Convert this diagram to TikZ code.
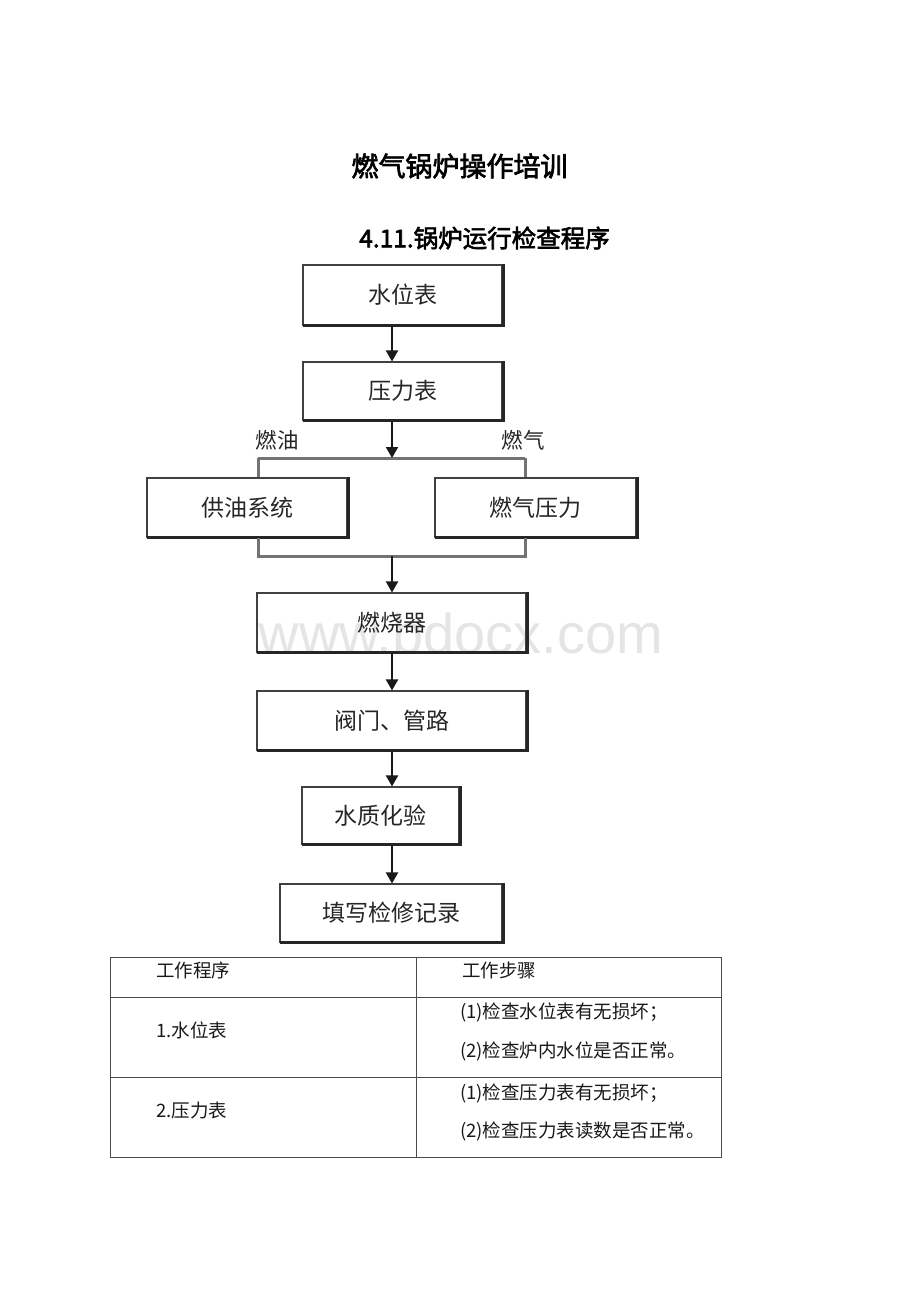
\documentclass[tikz,border=0pt]{standalone}
\usepackage{fontspec}
\setmainfont{Noto Sans CJK SC}
\newfontfamily\cjk{Noto Sans CJK SC}
\newfontfamily\cjkb[FakeBold=2.5]{Noto Sans CJK SC}
\newfontfamily\wm{Liberation Sans}
\usetikzlibrary{arrows.meta}
\tikzset{
  flowbox/.style={draw=black!75, line width=1.1pt, minimum width=#1, inner sep=0pt,
    font=\cjk\fontsize{23}{26}\selectfont, text=black!85},
  arr/.style={draw=black!90, line width=2pt, -{Triangle[width=12pt,length=11pt]}},
  branch/.style={draw=black!55, line width=3pt},
  lbl/.style={font=\cjk\fontsize{21.5}{24}\selectfont, text=black!85, inner sep=0pt},
  cell/.style={font=\cjk\fontsize{18.5}{21}\selectfont, text=black!90, anchor=west, inner sep=0pt},
  grid/.style={draw=black!70, line width=0.8pt}
}
\newcommand{\shadowbox}[1]{%
  \draw[black!85, line width=3pt] ([xshift=0.5pt]#1.north east) -- ([xshift=0.5pt]#1.south east) -- ([xshift=0.5pt,yshift=0pt]#1.south west);}
\begin{document}
\begin{tikzpicture}[x=1pt,y=-1pt]
\useasboundingbox[fill=white] (0,0) rectangle (920,1302);
% watermark
\node[font=\wm\fontsize{56}{60}\selectfont, text=black!10, inner sep=0pt] (wmk) at (461,633) {www.bdocx.com};
% titles
\node[font=\cjkb\fontsize{27}{30}\selectfont, inner sep=0pt] (title) at (459.5,166) {燃气锅炉操作培训};
\node[font=\cjkb\fontsize{24.5}{28}\selectfont, inner sep=0pt] (sub) at (484.5,238) {4.11.锅炉运行检查程序};
% boxes
\node[flowbox=199pt, minimum height=60pt] (wl) at (402.5,295) {水位表};
\node[flowbox=199pt, minimum height=58pt] (yl) at (402.5,391) {压力表};
\node[flowbox=200pt, minimum height=59pt] (gy) at (247,507.5) {供油系统};
\node[flowbox=201pt, minimum height=59pt] (rq) at (535.5,507.5) {燃气压力};
\node[flowbox=269pt, minimum height=59pt] (rsq) at (391.5,622.5) {燃烧器};
\node[flowbox=269pt, minimum height=59pt] (fm) at (391.5,720.5) {阀门、管路};
\node[flowbox=157pt, minimum height=57pt] (sz) at (380.5,815.5) {水质化验};
\node[flowbox=222pt, minimum height=58pt] (tx) at (391,913) {填写检修记录};
\foreach \b in {wl,yl,gy,rq,rsq,fm,sz,tx}{\shadowbox{\b}}
% spine coordinates
\coordinate (sp) at (392,0);
\coordinate (bl) at (258,458);
\coordinate (br) at (525,458);
\coordinate (bm) at (392,458);
\coordinate (ll) at (258,556);
\coordinate (lr) at (525,556);
\coordinate (lm) at (392,556);
% branches
\draw[branch] (bl) -- (br);
\draw[branch] (bl) -- (gy.north -| bl);
\draw[branch] (br) -- (rq.north -| br);
\draw[branch] (gy.south -| ll) -- (ll) -- (lr) -- (rq.south -| lr);
% arrows
\draw[arr] (wl.south -| sp) -- (yl.north -| sp);
\draw[arr] (yl.south -| sp) -- (bm);
\draw[arr] (lm) -- (rsq.north -| sp);
\draw[arr] (rsq.south -| sp) -- (fm.north -| sp);
\draw[arr] (fm.south -| sp) -- (sz.north -| sp);
\draw[arr] (sz.south -| sp) -- (tx.north -| sp);
% labels
\node[lbl] (ly) at (277,440) {燃油};
\node[lbl] (lq) at (523,440) {燃气};
% table
\draw[grid] (110,957) rectangle (721,1157);
\draw[grid] (416,957) -- (416,1157);
\draw[grid] (110,997) -- (721,997);
\draw[grid] (110,1077) -- (721,1077);
\node[cell] (h1) at (156,970) {工作程序};
\node[cell] (h2) at (462,970) {工作步骤};
\node[cell] (r1) at (156,1030) {1.水位表};
\node[cell] (r1a) at (460,1012) {(1)检查水位表有无损坏；};
\node[cell] (r1b) at (460,1051) {(2)检查炉内水位是否正常。};
\node[cell] (r2) at (156,1110) {2.压力表};
\node[cell] (r2a) at (460,1093) {(1)检查压力表有无损坏；};
\node[cell] (r2b) at (460,1131) {(2)检查压力表读数是否正常。};
\end{tikzpicture}
\end{document}
